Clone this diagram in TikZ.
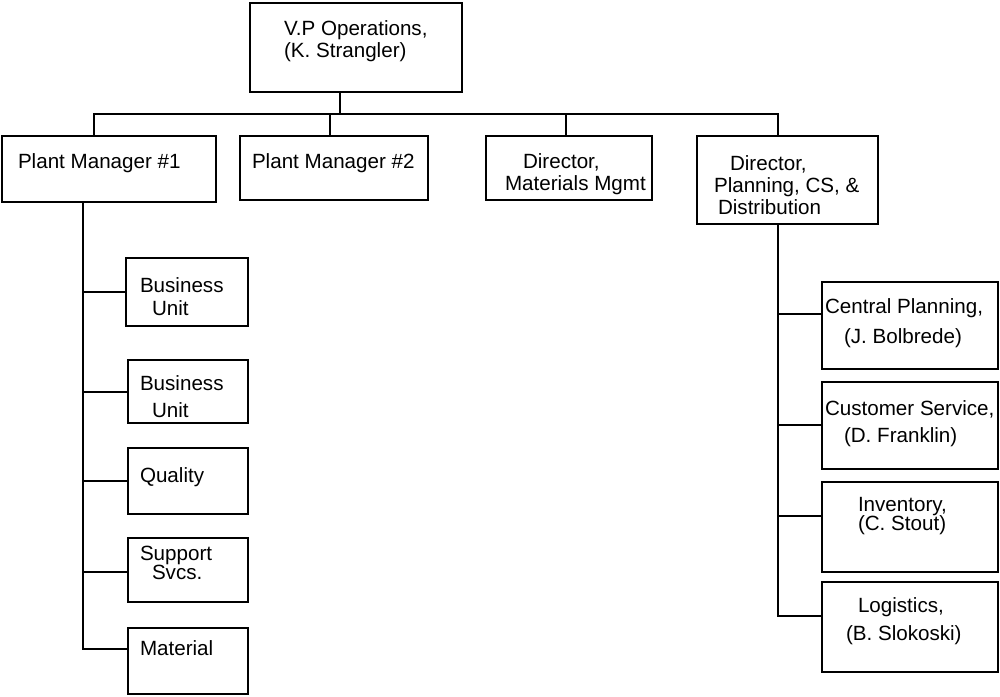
\documentclass[tikz,border=0pt]{standalone}
\usepackage{fontspec}
\setmainfont{Liberation Sans}
\tikzset{
  box/.style 2 args={draw,inner sep=0pt,minimum width=#1pt,minimum height=#2pt},
  txt/.style={align=left,anchor=west,inner sep=0pt}
}
\begin{document}
\begin{tikzpicture}[x=1pt,y=-1pt,line width=2pt,line cap=rect,font=\fontsize{20.6}{22}\selectfont]
\useasboundingbox (0,0) rectangle (1000,696);
\node[box={212}{89}](vp) at (356,47.5){};
\node[txt](vp-t) at (283,41){V.P Operations,\\(K. Strangler)};
\node[box={214}{66}](pm1) at (109,169){};
\node[txt](pm1-t) at (17,163){Plant Manager \#1};
\node[box={188}{64}](pm2) at (334,168){};
\node[txt](pm2-t) at (251,163){Plant Manager \#2};
\node[box={166}{64}](dm) at (569,168){};
\node[txt](dm-t) at (504,174){\hspace*{18pt}Director,\\Materials Mgmt};
\node[box={181}{88}](dp) at (787.5,180){};
\node[txt](dp-t) at (713,185){\hspace*{16pt}Director,\\Planning, CS, \&\\\hspace*{4pt}Distribution};
\node[box={122}{68}](bu1) at (187,292){};
\node[txt](bu1-t) at (139,296.5){Business\\[1pt]\hspace*{12pt}Unit};
\node[box={120}{63}](bu2) at (188,391.5){};
\node[txt](bu2-t) at (139,396.5){Business\\[5pt]\hspace*{12pt}Unit};
\node[box={120}{66}](qual) at (188,481){};
\node[txt](qual-t) at (139,477){Quality};
\node[box={120}{64}](sup) at (188,570){};
\node[txt](sup-t) at (139,563){Support\\[-3pt]\hspace*{12pt}Svcs.};
\node[box={120}{66}](mat) at (188,661){};
\node[txt](mat-t) at (139,648){Material};
\node[box={176}{87}](cp) at (910,325.5){};
\node[txt](cp-t) at (824,323){Central Planning,\\[8pt]\hspace*{19pt}(J. Bolbrede)};
\node[box={176}{87}](cs) at (910,425.5){};
\node[txt](cs-t) at (824,423.5){Customer Service,\\[5pt]\hspace*{19pt}(D. Franklin)};
\node[box={176}{90}](inv) at (910,527){};
\node[txt](inv-t) at (857,516.5){Inventory,\\[-3pt](C. Stout)};
\node[box={176}{90}](log) at (910,627){};
\node[txt](log-t) at (845,621){\hspace*{12pt}Logistics,\\[6pt](B. Slokoski)};
\coordinate (bus) at (340,114);
\draw (bus |- vp.south)--(bus);
\foreach \n/\x in {pm1/94,pm2/330,dm/566,dp/778}{
  \coordinate (\n-up) at (\x,114);
  \draw (\n-up)--(\n-up |- \n.north);
}
\draw (pm1-up)--(dp-up);
\coordinate (sp1) at (83,649);
\draw (sp1 |- pm1.south)--(sp1);
\foreach \n/\y in {bu1/292,bu2/392,qual/481,sup/572,mat/649}{
  \coordinate (b-\n) at (83,\y);
  \draw (b-\n)--(b-\n -| \n.west);
}
\coordinate (sp2) at (778,616);
\draw (sp2 |- dp.south)--(sp2);
\foreach \n/\y in {cp/314,cs/425,inv/516,log/616}{
  \coordinate (b-\n) at (778,\y);
  \draw (b-\n)--(b-\n -| \n.west);
}
\end{tikzpicture}
\end{document}
